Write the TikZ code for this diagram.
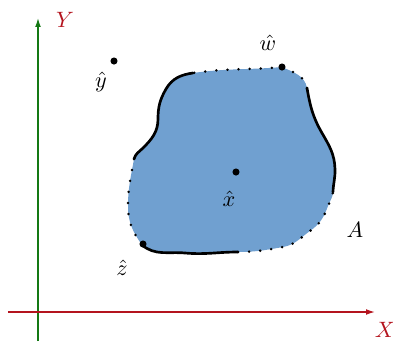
\documentclass[tikz,border=0pt]{standalone}
\usetikzlibrary{arrows.meta}
\definecolor{axisgreen}{RGB}{20,120,20}
\definecolor{axisred}{RGB}{180,20,30}
\definecolor{blobblue}{RGB}{112,160,208}
\begin{document}
\begin{tikzpicture}[x=0.45pt,y=0.45pt,
  axis/.style={line width=0.6pt,-{Latex[length=4pt,width=2.6pt]}},
  solidedge/.style={line width=1.2pt,line cap=round},
  dotedge/.style={line width=1.25pt,line cap=round,dash pattern=on 0pt off 5pt},
  pt/.style={circle,fill=black,inner sep=0pt,minimum size=3.2pt},
  lbl/.style={inner sep=0pt}]
\useasboundingbox (0,0) rectangle (393,341);
% blob fill
\fill[blobblue] (193,268) to[out=188,in=60] (166,252) to[out=240,in=90] (158,222)
  to[out=270,in=45] (143,193) to[out=225,in=75] (134,182)
  to[out=260,in=90] (128,135) to[out=270,in=125] (142,96)
  to[out=-40,in=175] (185,88) to[out=-5,in=180] (238,89)
  to[out=0,in=190] (283,94) to[out=10,in=215] (310,110) to[out=35,in=250] (328,135) to[out=70,in=268] (333,149)
  to[out=88,in=-88] (335,172) to[out=92,in=-60] (322,208) to[out=120,in=-80] (307,253)
  to[out=100,in=-25] (282,274) to[out=185,in=8] (193,268) -- cycle;
% edges
\draw[solidedge] (193,268) to[out=188,in=60] (166,252) to[out=240,in=90] (158,222)
  to[out=270,in=45] (143,193) to[out=225,in=75] (134,182);
\draw[dotedge] (134,182) to[out=260,in=90] (128,135) to[out=270,in=125] (142,96);
\draw[solidedge] (142,96) to[out=-40,in=175] (185,88) to[out=-5,in=180] (238,89);
\draw[dotedge] (238,89) to[out=0,in=190] (283,94) to[out=10,in=215] (310,110) to[out=35,in=250] (328,135) to[out=70,in=268] (333,149);
\draw[solidedge] (333,149) to[out=88,in=-88] (335,172) to[out=92,in=-60] (322,208) to[out=120,in=-80] (307,253);
\draw[dotedge] (307,253) to[out=100,in=-25] (282,274) to[out=185,in=8] (193,268);
% axes
\coordinate (ys) at (38,0);
\coordinate (ye) at (38,323);
\coordinate (xs) at (8,29);
\coordinate (xe) at (375,29);
\draw[axis,axisgreen] (ys) -- (ye);
\draw[axis,axisred] (xs) -- (xe);
\node[lbl,text=axisred] (Ylab) at (65,321) {$Y$};
\node[lbl,text=axisred] (Xlab) at (385,11) {$X$};
% points
\node[pt] (y) at (114,280) {};
\node[lbl] (ylab) at (101,259) {$\hat{y}$};
\node[pt] (w) at (282,274) {};
\node[lbl] (wlab) at (268,298) {$\hat{w}$};
\node[pt] (x) at (236,169) {};
\node[lbl] (xlab) at (229,142) {$\hat{x}$};
\node[pt] (z) at (143,97) {};
\node[lbl] (zlab) at (122,73) {$\hat{z}$};
\node[lbl] (A) at (355,111) {$A$};
\end{tikzpicture}
\end{document}
